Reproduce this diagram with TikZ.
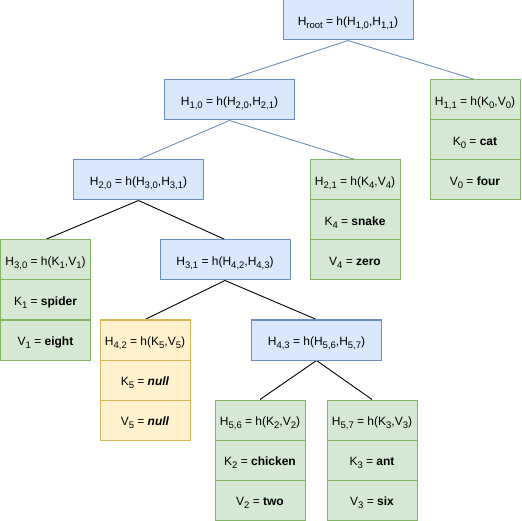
\documentclass[tikz,border=0pt]{standalone}
\usepackage{fontspec}
\setmainfont{Liberation Sans}
\usetikzlibrary{backgrounds}
\definecolor{bluefill}{HTML}{DAE8FC}
\definecolor{bluedraw}{HTML}{6C8EBF}
\definecolor{greenfill}{HTML}{D5E8D4}
\definecolor{greendraw}{HTML}{82B366}
\definecolor{yellowfill}{HTML}{FFF2CC}
\definecolor{yellowdraw}{HTML}{D6B656}
% lowered, smaller index text
\newcommand{\sub}[1]{\raisebox{-2.6pt}{\fontsize{9.5}{10}\selectfont #1}}
\tikzset{
  cell/.style={rectangle, inner sep=0pt, line width=1pt, minimum height=40pt,
    text height=12.5pt, text depth=1.5pt,
    font=\fontsize{12}{14}\selectfont, anchor=center},
  hashbox/.style={cell, fill=bluefill, draw=bluedraw, minimum width=130pt},
  leafbox/.style={cell, fill=greenfill, draw=greendraw, minimum width=90pt},
  nullbox/.style={cell, fill=yellowfill, draw=yellowdraw, minimum width=90pt},
  bluelink/.style={draw=bluedraw, line width=0.9pt},
  blacklink/.style={draw=black, line width=0.9pt},
}
\begin{document}
\begin{tikzpicture}[x=1pt,y=-1pt]
\useasboundingbox (0,0) rectangle (522,521);

% inner hash nodes
\node[hashbox] (root) at (348,20) {H\sub{root} = h(H\sub{1,0},H\sub{1,1})};
\node[hashbox] (h10) at (229.5,100) {H\sub{1,0} = h(H\sub{2,0},H\sub{2,1})};
\node[hashbox] (h20) at (138.5,180) {H\sub{2,0} = h(H\sub{3,0},H\sub{3,1})};
\node[hashbox] (h31) at (225,260) {H\sub{3,1} = h(H\sub{4,2},H\sub{4,3})};
\node[hashbox] (h43) at (316.5,340) {H\sub{4,3} = h(H\sub{5,6},H\sub{5,7})};

% leaves: hash, key, value
\node[leafbox] (h11) at (475,100) {H\sub{1,1} = h(K\sub{0},V\sub{0})};
\node[leafbox] (k0) at (475,140) {K\sub{0} = \textbf{cat}};
\node[leafbox] (v0) at (475,180) {V\sub{0} = \textbf{four}};

\node[leafbox] (h21) at (355,180) {H\sub{2,1} = h(K\sub{4},V\sub{4})};
\node[leafbox] (k4) at (355,220) {K\sub{4} = \textbf{snake}};
\node[leafbox] (v4) at (355,260) {V\sub{4} = \textbf{zero}};

\node[leafbox] (h30) at (45.5,260) {H\sub{3,0} = h(K\sub{1},V\sub{1})};
\node[leafbox] (k1) at (45.5,300) {K\sub{1} = \textbf{spider}};
\node[leafbox] (v1) at (45.5,340) {V\sub{1} = \textbf{eight}};

\node[nullbox] (h42) at (145,340) {H\sub{4,2} = h(K\sub{5},V\sub{5})};
\node[nullbox] (k5) at (145,380) {K\sub{5} = \textbf{\textit{null}}};
\node[nullbox] (v5) at (145,420) {V\sub{5} = \textbf{\textit{null}}};

\node[leafbox] (h56) at (260,420) {H\sub{5,6} = h(K\sub{2},V\sub{2})};
\node[leafbox] (k2) at (260,460) {K\sub{2} = \textbf{chicken}};
\node[leafbox] (v2) at (260,500) {V\sub{2} = \textbf{two}};

\node[leafbox] (h57) at (372,420) {H\sub{5,7} = h(K\sub{3},V\sub{3})};
\node[leafbox] (k3) at (372,460) {K\sub{3} = \textbf{ant}};
\node[leafbox] (v3) at (372,500) {V\sub{3} = \textbf{six}};

% tree links, behind the boxes
\begin{pgfonlayer}{background}
\draw[bluelink] (root.south) -- (h10.north);
\draw[bluelink] (root.south) -- (h11.north);
\draw[bluelink] (h10.south) -- (h20.north);
\draw[bluelink] (h10.south) -- (h21.north);
\draw[blacklink] (h20.south) -- (h30.north);
\draw[blacklink] (h20.south) -- (h31.north);
\draw[blacklink] (h31.south) -- (h42.north);
\draw[blacklink] (h31.south) -- (h43.north);
\draw[blacklink] (h43.south) -- (h56.north);
\draw[blacklink] (h43.south) -- (h57.north);
\end{pgfonlayer}
\end{tikzpicture}
\end{document}
